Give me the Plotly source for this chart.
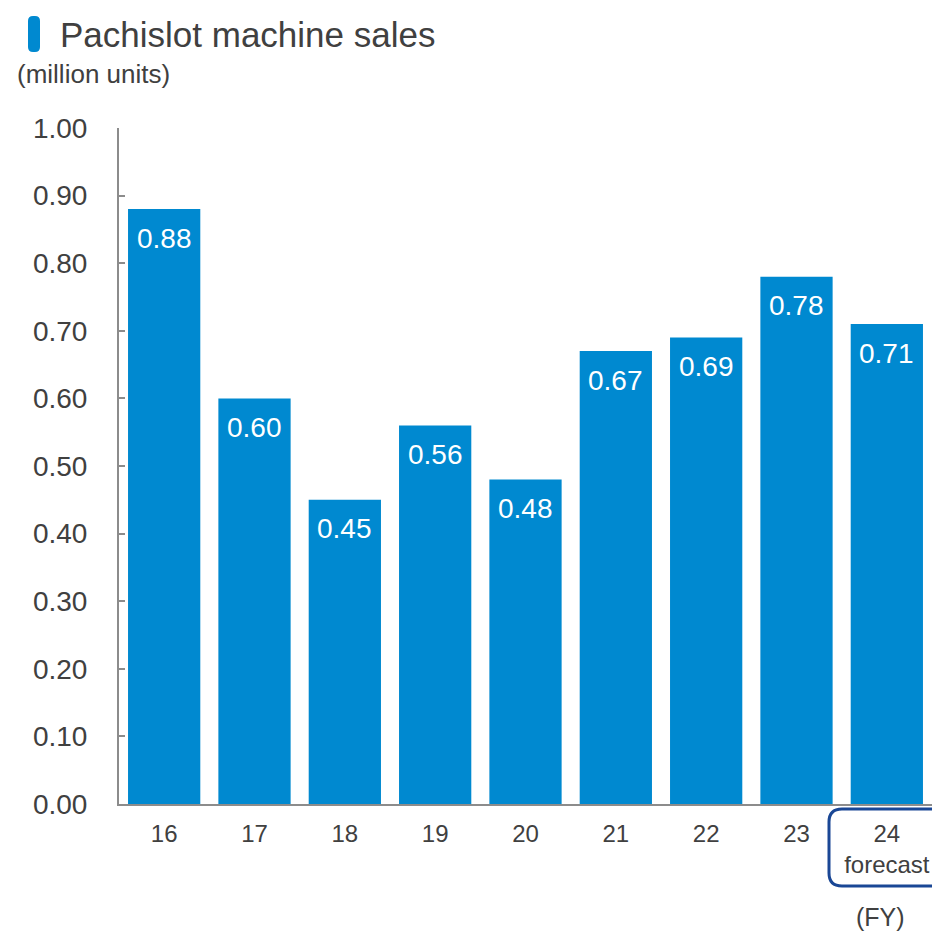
import plotly.graph_objects as go

# Fiscal years and unit sales (million units)
years = ["16", "17", "18", "19", "20", "21", "22", "23", "24"]
tick_text = ["16", "17", "18", "19", "20", "21", "22", "23", "24<br>forecast"]
sales = [0.88, 0.60, 0.45, 0.56, 0.48, 0.67, 0.69, 0.78, 0.71]
y_ticks = [0.0, 0.1, 0.2, 0.3, 0.4, 0.5, 0.6, 0.7, 0.8, 0.9, 1.0]

W, H = 932, 931
L, R, T, B = 119, 0, 128, 127
PW, PH = W - L - R, H - T - B

BAR = "#0089d0"
TXT = "#404040"
AX = "#8c8c8c"
FONT = "Liberation Sans, Arial, sans-serif"


def px_x(px):
    return (px - L) / PW


def px_y(py):
    return (H - B - py) / PH


def rounded_rect(x0, y0, x1, y1, r):
    """SVG path of a rounded rectangle, pixel inputs -> paper coords."""
    rx, ry = r / PW, r / PH
    a, b, c, d = px_x(x0), px_x(x1), px_y(y0), px_y(y1)  # c top, d bottom
    return (
        f"M{a + rx},{c} L{b - rx},{c} Q{b},{c} {b},{c - ry} "
        f"L{b},{d + ry} Q{b},{d} {b - rx},{d} "
        f"L{a + rx},{d} Q{a},{d} {a},{d + ry} "
        f"L{a},{c - ry} Q{a},{c} {a + rx},{c} Z"
    )


fig = go.Figure(
    go.Bar(
        x=years,
        y=sales,
        marker=dict(color=BAR, line=dict(width=0)),
        hoverinfo="skip",
    )
)

# value labels inside the top of each bar (category index as x position)
for i, v in enumerate(sales):
    fig.add_annotation(
        x=i, y=v, xref="x", yref="y",
        text=f"{v:.2f}", showarrow=False,
        yanchor="middle", yshift=-29,
        font=dict(family=FONT, size=28, color="white"),
    )

# title with blue marker
fig.add_shape(
    type="path", xref="paper", yref="paper",
    path=rounded_rect(28, 16, 40, 52, 5),
    fillcolor=BAR, line=dict(width=0),
)
fig.add_annotation(
    xref="paper", yref="paper", x=px_x(58), y=px_y(34),
    xanchor="left", yanchor="middle", showarrow=False,
    text="Pachislot machine sales",
    font=dict(family=FONT, size=35, color=TXT),
)
fig.add_annotation(
    xref="paper", yref="paper", x=px_x(15), y=px_y(74),
    xanchor="left", yanchor="middle", showarrow=False,
    text="(million units)",
    font=dict(family=FONT, size=26, color=TXT),
)
fig.add_annotation(
    xref="paper", yref="paper", x=px_x(880), y=px_y(917),
    xanchor="center", yanchor="middle", showarrow=False,
    text="(FY)",
    font=dict(family=FONT, size=25, color=TXT),
)

# frame around the forecast year label
fig.add_shape(
    type="path", xref="paper", yref="paper",
    path=rounded_rect(829, 809, 950, 886, 13),
    fillcolor="rgba(0,0,0,0)", line=dict(color="#1a4795", width=3),
)

fig.update_layout(
    width=W, height=H,
    margin=dict(l=L, r=R, t=T, b=B),
    paper_bgcolor="white", plot_bgcolor="white",
    bargap=0.2, showlegend=False,
    font=dict(family=FONT, color=TXT),
)
fig.update_xaxes(
    type="category", range=[-0.5, 8.5],
    tickvals=years, ticktext=tick_text,
    showline=True, linecolor=AX, linewidth=2,
    ticks="", showgrid=False, zeroline=False,
    tickfont=dict(family=FONT, size=24, color=TXT),
    ticklabelstandoff=7,
)
fig.update_yaxes(
    range=[0, 1.0], tickvals=y_ticks,
    tickformat=".2f",
    showline=True, linecolor=AX, linewidth=2,
    ticks="inside", ticklen=6, tickcolor=AX, tickwidth=2,
    showgrid=False, zeroline=False,
    tickfont=dict(family=FONT, size=28, color=TXT),
    ticklabelstandoff=24,
)

fig.write_html("out.html")
